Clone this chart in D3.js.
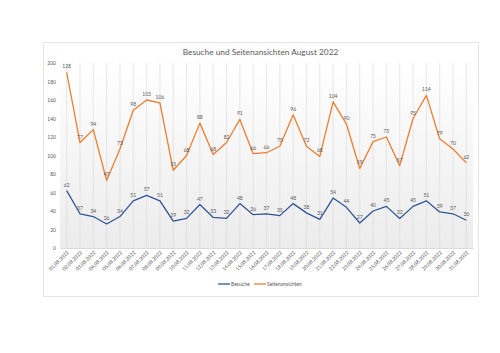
<!DOCTYPE html>
<html>
<head>
<meta charset="utf-8">
<script src="https://d3js.org/d3.v7.min.js"></script>
<style>
  body { margin: 0; background: #fff; }
  svg { display: block; font-family: Lato, "Liberation Sans", sans-serif; }
</style>
</head>
<body>
<svg id="drawing_region"></svg>
<script>
const dates = ["01.08.2022","02.08.2022","03.08.2022","04.08.2022","05.08.2022","06.08.2022","07.08.2022","08.08.2022","09.08.2022","10.08.2022","11.08.2022","12.08.2022","13.08.2022","14.08.2022","15.08.2022","16.08.2022","17.08.2022","18.08.2022","19.08.2022","20.08.2022","21.08.2022","22.08.2022","23.08.2022","24.08.2022","25.08.2022","26.08.2022","27.08.2022","28.08.2022","29.08.2022","30.08.2022","31.08.2022"];
const besuche = [62,37,34,26,34,51,57,51,29,32,47,33,32,48,36,37,35,48,38,31,54,44,27,40,45,32,45,51,39,37,30];
const seitenansichten = [128,77,94,47,73,98,103,106,55,68,88,68,82,91,66,66,75,96,72,68,104,90,59,75,75,57,95,114,79,70,62];
const seriesNames = ["Besuche", "Seitenansichten"];
const seriesColors = ["#2E5597", "#ED7D31"];
const yTicks = [0,20,40,60,80,100,120,140,160,180,200];

const config = {
    width: 500,
    height: 353,
    frame: {left: 43, top: 42, right: 478, bottom: 296},
    plot: {left: 60, top: 63, right: 473, bottom: 248},
    title: 'Besuche und Seitenansichten August 2022'
};

const svg = d3.select('#drawing_region')
    .attr('width', config.width)
    .attr('height', config.height);

// chart frame
svg.append('rect')
    .attr('x', config.frame.left + 0.5)
    .attr('y', config.frame.top + 0.5)
    .attr('width', config.frame.right - config.frame.left)
    .attr('height', config.frame.bottom - config.frame.top)
    .attr('fill', '#fff')
    .attr('stroke', '#e4e4e4');

svg.append('text')
    .attr('x', (config.frame.left + config.frame.right) / 2)
    .attr('y', 55)
    .attr('text-anchor', 'middle')
    .style('font-size', '8.3px')
    .attr('fill', '#595959')
    .text(config.title);

// plot area gradient
const defs = svg.append('defs');
const grad = defs.append('linearGradient')
    .attr('id', 'plotfill')
    .attr('x1', 0).attr('y1', 0).attr('x2', 0).attr('y2', 1);
grad.append('stop').attr('offset', '0%').attr('stop-color', '#ffffff');
grad.append('stop').attr('offset', '100%').attr('stop-color', '#ececec');

svg.append('rect')
    .attr('x', config.plot.left)
    .attr('y', config.plot.top)
    .attr('width', config.plot.right - config.plot.left)
    .attr('height', config.plot.bottom - config.plot.top)
    .attr('fill', 'url(#plotfill)');

const xscale = d3.scalePoint()
    .domain(dates)
    .range([config.plot.left, config.plot.right])
    .padding(0.5);
const yscale = d3.scaleLinear()
    .domain([0, 200])
    .range([config.plot.bottom, config.plot.top]);

// vertical gridlines
svg.append('g')
    .selectAll('line')
    .data(dates)
    .join('line')
    .attr('x1', d => xscale(d))
    .attr('x2', d => xscale(d))
    .attr('y1', config.plot.top)
    .attr('y2', config.plot.bottom)
    .attr('stroke', '#d9d9d9')
    .attr('stroke-width', 0.6);

// y axis
const yaxis = d3.axisLeft(yscale).tickValues(yTicks).tickSize(0).tickPadding(4);
const yaxis_group = svg.append('g')
    .attr('transform', `translate(${config.plot.left}, 0)`)
    .call(yaxis);
yaxis_group.select('.domain').remove();
yaxis_group.selectAll('text')
    .style('font-size', '5px')
    .style('font-family', 'Lato, sans-serif')
    .attr('fill', '#595959');

// x axis
const xaxis = d3.axisBottom(xscale).tickSize(0).tickPadding(0);
const xaxis_group = svg.append('g')
    .attr('transform', `translate(0, ${config.plot.bottom})`)
    .call(xaxis);
xaxis_group.select('.domain')
    .attr('stroke', '#d9d9d9');
xaxis_group.selectAll('text')
    .style('font-size', '5px')
    .style('font-family', 'Lato, sans-serif')
    .attr('fill', '#595959')
    .attr('text-anchor', 'end')
    .attr('dy', 0)
    .attr('transform', 'translate(2, 5) rotate(-45)');

// stacked lines
const table = dates.map((d, i) => ({date: d, Besuche: besuche[i], Seitenansichten: seitenansichten[i]}));
const stacked = d3.stack().keys(seriesNames)(table);

const line = d3.line()
    .x(d => xscale(d.data.date))
    .y(d => yscale(d[1]));

stacked.forEach((s, k) => {
    svg.append('path')
        .datum(s)
        .attr('fill', 'none')
        .attr('stroke', seriesColors[k])
        .attr('stroke-width', 1.3)
        .attr('stroke-linejoin', 'round')
        .attr('d', line);
    svg.append('g')
        .selectAll('text')
        .data(s)
        .join('text')
        .attr('x', d => xscale(d.data.date))
        .attr('y', d => yscale(d[1]) - 4)
        .attr('text-anchor', 'middle')
        .style('font-size', '5px')
        .attr('fill', '#595959')
        .text(d => d.data[s.key]);
});

// legend
const legendItems = [
    {name: seriesNames[0], color: seriesColors[0], x: 218},
    {name: seriesNames[1], color: seriesColors[1], x: 254}
];
const legend = svg.append('g').attr('transform', 'translate(0, 284)');
legendItems.forEach(item => {
    legend.append('line')
        .attr('x1', item.x).attr('x2', item.x + 12)
        .attr('y1', 0).attr('y2', 0)
        .attr('stroke', item.color)
        .attr('stroke-width', 1.3);
    legend.append('text')
        .attr('x', item.x + 13)
        .attr('y', 1.8)
        .style('font-size', '5px')
        .attr('fill', '#595959')
        .text(item.name);
});
</script>
</body>
</html>
